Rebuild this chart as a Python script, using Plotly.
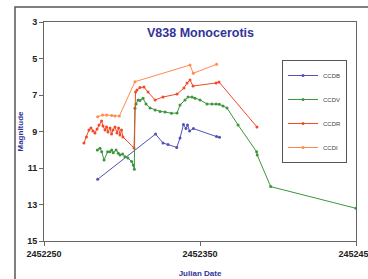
import plotly.graph_objects as go

# CCDB (blue)
b_jd = [2452284.4, 2452321.5, 2452326.3, 2452329.5, 2452335.1, 2452337.2, 2452339.4,
        2452341.0, 2452342.0, 2452343.3, 2452345.8, 2452360.6, 2452362.5]
b_mag = [11.62, 9.14, 9.63, 9.71, 9.87, 9.36, 8.62, 8.84, 8.64, 8.97, 8.84, 9.28, 9.32]

# CCDV (green)
v_jd = [2452284.2, 2452285.9, 2452287.0, 2452288.5, 2452290.8, 2452292.3, 2452293.4,
        2452294.4, 2452296.2, 2452297.6, 2452298.7, 2452300.4, 2452301.9, 2452303.8,
        2452306.2, 2452307.2, 2452307.9, 2452308.3, 2452309.0, 2452310.3, 2452311.5,
        2452313.5, 2452315.4, 2452318.0, 2452321.2, 2452324.4, 2452327.6, 2452331.7,
        2452335.3, 2452337.2, 2452340.4, 2452342.3, 2452344.9, 2452346.8, 2452350.0,
        2452354.5, 2452357.7, 2452360.3, 2452362.4, 2452364.7, 2452367.3, 2452374.4,
        2452386.3, 2452386.7, 2452395.3, 2452450.0]
v_mag = [10.01, 9.92, 10.11, 10.56, 10.11, 10.11, 10.01, 10.16, 10.01, 10.19, 10.29,
         10.23, 10.38, 10.45, 10.65, 10.84, 11.07, 7.73, 7.49, 7.27, 7.30, 7.18, 7.49,
         7.71, 7.82, 7.90, 7.93, 8.00, 7.99, 7.55, 7.27, 7.11, 7.11, 7.18, 7.27, 7.49,
         7.49, 7.49, 7.51, 7.60, 7.71, 8.64, 10.11, 10.29, 12.02, 13.21]

# CCDR (red)
r_jd = [2452275.6, 2452277.2, 2452278.8, 2452280.1, 2452281.4, 2452282.7, 2452284.0,
        2452285.3, 2452286.9, 2452287.8, 2452289.1, 2452290.1, 2452291.0, 2452292.3,
        2452293.3, 2452294.2, 2452295.5, 2452296.8, 2452297.8, 2452298.7, 2452299.7,
        2452300.6, 2452307.7, 2452308.7, 2452309.6, 2452311.5, 2452314.1, 2452316.7,
        2452321.2, 2452326.3, 2452335.3, 2452339.7, 2452341.7, 2452343.6, 2452345.5,
        2452360.3, 2452362.2, 2452386.5]
r_mag = [9.63, 9.30, 8.92, 8.81, 8.97, 9.08, 8.86, 8.64, 8.42, 8.70, 8.92, 8.75, 9.03,
         8.81, 9.14, 8.92, 8.75, 9.08, 8.81, 9.19, 8.92, 9.30, 9.90, 6.84, 6.73, 6.59,
         6.56, 6.84, 7.27, 7.11, 6.95, 6.62, 6.34, 6.18, 6.51, 6.34, 6.29, 8.75]

# CCDI (orange)
i_jd = [2452284.4, 2452287.6, 2452290.2, 2452293.4, 2452295.5, 2452298.3, 2452308.3,
        2452343.6, 2452345.7, 2452360.6]
i_mag = [8.19, 8.10, 8.10, 8.13, 8.15, 8.15, 6.27, 5.36, 5.81, 5.32]

y_ticks = [3, 5, 7, 9, 11, 13, 15]
x_ticks = [2452250, 2452350, 2452450]

series = [
    ("CCDB", b_jd, b_mag, "#5252b4"),
    ("CCDV", v_jd, v_mag, "#3c963c"),
    ("CCDR", r_jd, r_mag, "#f04a28"),
    ("CCDI", i_jd, i_mag, "#ff8a4c"),
]

fig = go.Figure()
for name, xs, ys, col in series:
    fig.add_trace(go.Scatter(
        x=xs, y=ys, name=name, mode="lines+markers", legendgroup=name,
        line=dict(color=col, width=1), marker=dict(color=col, size=3),
    ))

sans = "Liberation Sans, Arial, sans-serif"
fig.update_layout(
    width=368, height=279,
    margin=dict(l=44, r=12, t=22, b=38),
    paper_bgcolor="white", plot_bgcolor="white",
    font=dict(family=sans, size=9, color="#222"),
    showlegend=True,
    legend=dict(
        x=(282 - 44) / 312, y=(241 - 60) / 219, xanchor="left", yanchor="top",
        bgcolor="white", bordercolor="#555", borderwidth=1,
        font=dict(size=6, color="#444", family=sans),
        itemwidth=30, tracegroupgap=5,
    ),
    annotations=[
        dict(text="<b>V838 Monocerotis</b>", x=0.5, y=(241 - 33) / 219,
             xref="paper", yref="paper", yanchor="middle",
             showarrow=False, font=dict(size=12.5, color="#333399", family=sans)),
    ],
    shapes=[
        dict(type="rect", xref="paper", yref="paper",
             x0=(15 - 44) / 312, x1=1.2, y0=-0.5, y1=(241 - 7) / 219,
             line=dict(color="#555", width=1.5), fillcolor="rgba(0,0,0,0)"),
    ],
)
fig.update_xaxes(
    range=[2452250, 2452450], tickvals=x_ticks,
    ticktext=["<b>%d</b>" % v for v in x_ticks], automargin=False,
    ticklabeloverflow="allow",
    showgrid=False, zeroline=False, showline=True, linecolor="#666", linewidth=1,
    mirror=True, ticks="outside", ticklen=4, tickcolor="#666",
    title=dict(text="<b>Julian Date</b>", font=dict(size=8, color="#333399"), standoff=12),
)
fig.update_yaxes(
    range=[15, 3], tickvals=y_ticks,
    ticktext=["<b>%d</b>" % v for v in y_ticks], automargin=False,
    showgrid=False, zeroline=False, showline=True, linecolor="#666", linewidth=1,
    mirror=True, ticks="outside", ticklen=4, tickcolor="#666",
    title=dict(text="<b>Magnitude</b>", font=dict(size=8, color="#333399"), standoff=2),
)

fig.write_html(
    "out.html",
    config={"displayModeBar": False},
    post_script="document.body.style.margin='0';document.body.style.overflow='hidden';",
)
